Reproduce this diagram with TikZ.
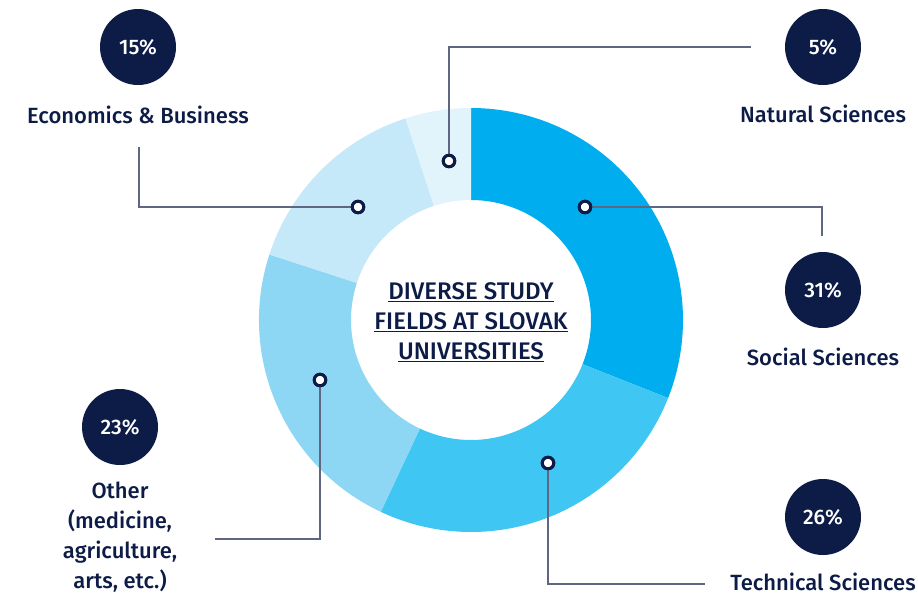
\documentclass[tikz,border=0pt]{standalone}
\usepackage{fontspec}
\setmainfont{Fira Sans}[UprightFont=* Medium, BoldFont=* SemiBold]
\definecolor{navy}{HTML}{0D1C47}
\definecolor{linec}{HTML}{5E6682}
\definecolor{cSoc}{HTML}{00AEEF}
\definecolor{cTech}{HTML}{40C6F2}
\definecolor{cOth}{HTML}{8DD7F5}
\definecolor{cEco}{HTML}{C6E9F9}
\definecolor{cNat}{HTML}{E1F3FB}
\tikzset{
  pct/.style={circle, fill=navy, minimum size=76pt, inner sep=0pt, text=white, font=\fontsize{21}{24}\selectfont},
  lbl/.style={text=navy, inner sep=0pt, anchor=base, font=\fontsize{22}{30}\selectfont},
  dotm/.style={circle, draw=navy, line width=3pt, fill=white, minimum size=11.5pt, inner sep=0pt},
  conn/.style={draw=linec, line width=1.4pt},
}
\begin{document}
\begin{tikzpicture}[x=1pt,y=-1pt]
\useasboundingbox (0,0) rectangle (918,595);
% donut
\begin{scope}[shift={(471,320)}, yscale=-1]
  \def\Ro{212}\def\Ri{120}
  \foreach \a/\b/\c in {90/-21.6/cSoc, -21.6/-115.2/cTech, -115.2/-198/cOth, -198/-252/cEco, -252/-270/cNat}{
    \fill[\c] (\a:\Ro) arc[start angle=\a, end angle=\b, radius=\Ro] -- (\b:\Ri) arc[start angle=\b, end angle=\a, radius=\Ri] -- cycle;
  }
\end{scope}
% centre title
\node[text=navy, align=center, inner sep=0pt, font=\fontsize{24}{30}\selectfont] (title) at (471,322)
  {\underline{DIVERSE STUDY}\\\underline{FIELDS AT SLOVAK}\\\underline{UNIVERSITIES}};
% connector ends
\coordinate (eNat) at (751,47);
\coordinate (eEco) at (139,147);
\coordinate (eSoc) at (822,236);
\coordinate (eOth) at (215,539);
\coordinate (eTech) at (705,584);
% dots
\node[dotm] (dNat) at (449,161) {};
\node[dotm] (dEco) at (358,207) {};
\node[dotm] (dSoc) at (585,207) {};
\node[dotm] (dOth) at (320,380) {};
\node[dotm] (dTech) at (548,463) {};
% connectors
\draw[conn] (dNat) |- (eNat);
\draw[conn] (dEco) -| (eEco);
\draw[conn] (dSoc) -| (eSoc);
\draw[conn] (dOth) |- (eOth);
\draw[conn] (dTech) |- (eTech);
% redraw dots on top
\node[dotm] at (dNat) {};
\node[dotm] at (dEco) {};
\node[dotm] at (dSoc) {};
\node[dotm] at (dOth) {};
\node[dotm] at (dTech) {};
% percentages
\node[pct] (p15) at (138,47) {15\%};
\node[pct] (p5) at (823,47) {5\%};
\node[pct] (p31) at (823,290) {31\%};
\node[pct] (p23) at (120,427) {23\%};
\node[pct] (p26) at (823,517) {26\%};
% labels
\node[lbl] (lEco) at (138,123) {Economics \& Business};
\node[lbl] (lNat) at (823,122) {Natural Sciences};
\node[lbl] (lSoc) at (823,365) {Social Sciences};
\node[lbl] (lTech) at (823,590) {Technical Sciences};
\node[text=navy, inner sep=0pt, align=center, font=\fontsize{22}{30}\selectfont] (lOth) at (120,537) {Other\\(medicine,\\agriculture,\\arts, etc.)};
\end{tikzpicture}
\end{document}
